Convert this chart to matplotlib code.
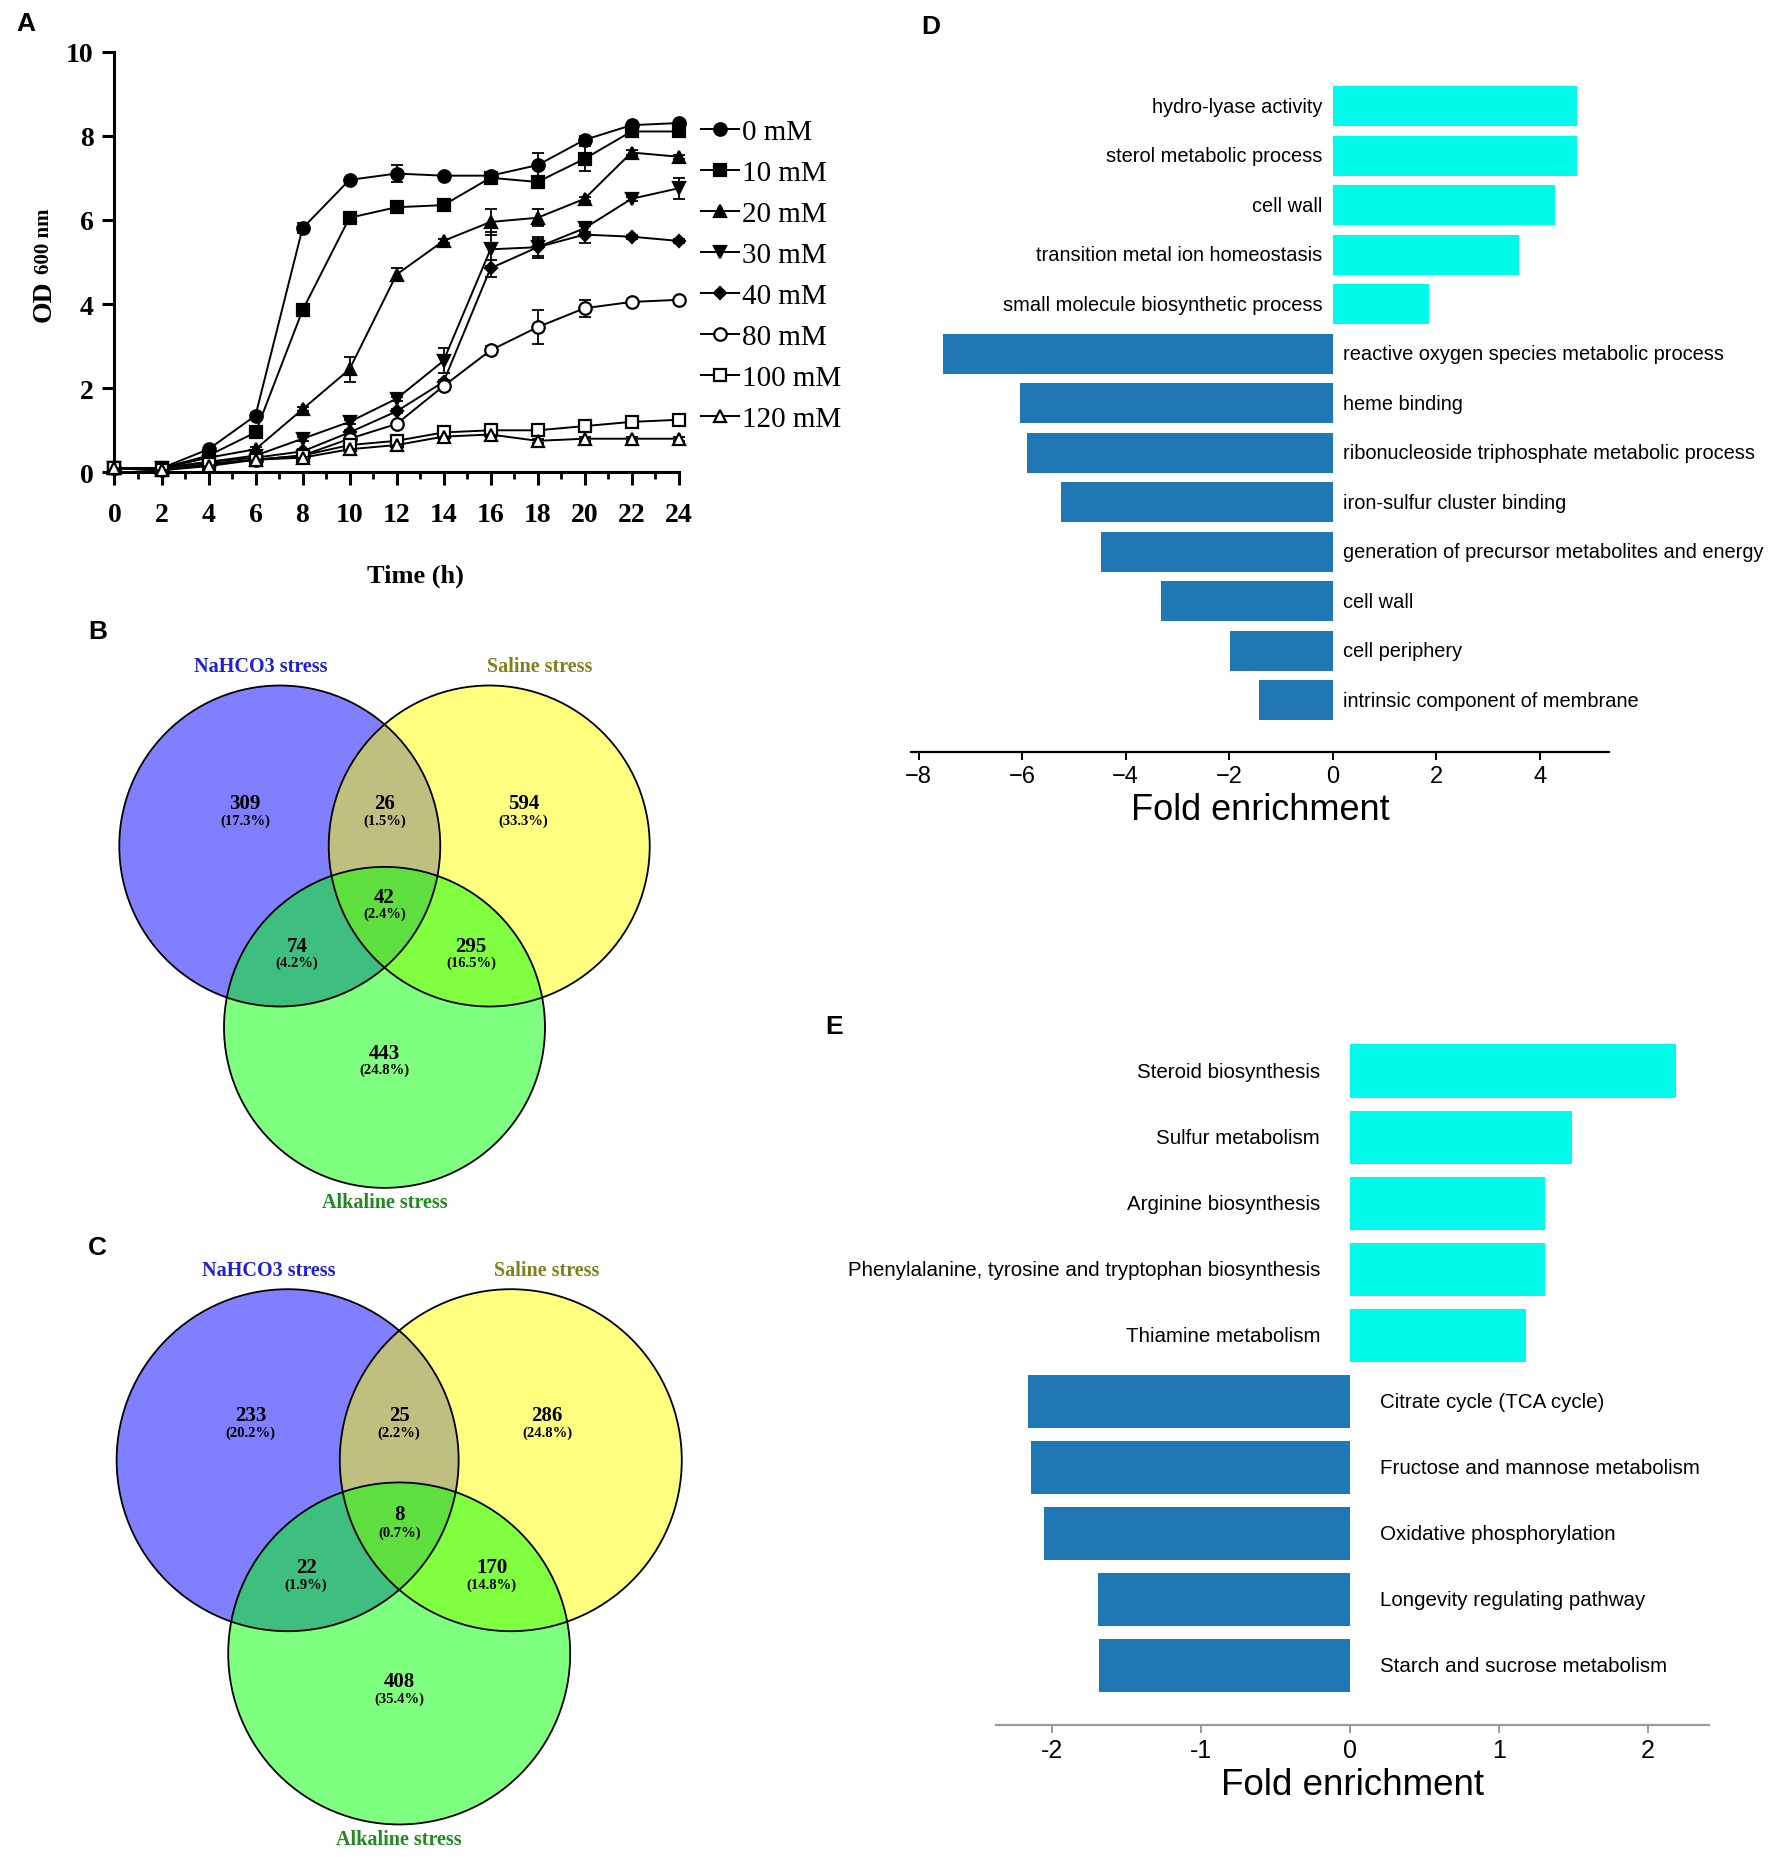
import matplotlib
matplotlib.use('Agg')
import matplotlib.pyplot as plt
from matplotlib.patches import Circle
import numpy as np

# ---------------- data ----------------
time_h = [0, 2, 4, 6, 8, 10, 12, 14, 16, 18, 20, 22, 24]
conc_labels = ['0 mM', '10 mM', '20 mM', '30 mM', '40 mM', '80 mM', '100 mM', '120 mM']
od_0 = [0.10, 0.10, 0.55, 1.35, 5.80, 6.95, 7.10, 7.05, 7.05, 7.30, 7.90, 8.25, 8.30]
od_10 = [0.10, 0.10, 0.40, 0.95, 3.85, 6.05, 6.30, 6.35, 7.00, 6.90, 7.45, 8.10, 8.10]
od_20 = [0.10, 0.10, 0.35, 0.55, 1.50, 2.45, 4.70, 5.50, 5.95, 6.05, 6.50, 7.60, 7.50]
od_30 = [0.10, 0.10, 0.25, 0.40, 0.80, 1.20, 1.75, 2.65, 5.30, 5.35, 5.80, 6.50, 6.75]
od_40 = [0.10, 0.10, 0.25, 0.35, 0.50, 0.95, 1.45, 2.15, 4.85, 5.35, 5.65, 5.60, 5.50]
od_80 = [0.10, 0.05, 0.20, 0.30, 0.40, 0.80, 1.15, 2.05, 2.90, 3.45, 3.90, 4.05, 4.10]
od_100 = [0.10, 0.05, 0.20, 0.30, 0.40, 0.65, 0.75, 0.95, 1.00, 1.00, 1.10, 1.20, 1.25]
od_120 = [0.10, 0.05, 0.15, 0.30, 0.35, 0.55, 0.65, 0.85, 0.90, 0.75, 0.80, 0.80, 0.80]
err_0 = [0, 0, 0.05, 0.05, 0.12, 0.05, 0.20, 0.05, 0.05, 0.30, 0.10, 0.05, 0.05]
err_10 = [0, 0, 0.05, 0.05, 0.05, 0.05, 0.05, 0.05, 0.10, 0.15, 0.30, 0.05, 0.05]
err_20 = [0, 0, 0.05, 0.05, 0.05, 0.30, 0.15, 0.05, 0.30, 0.20, 0.05, 0.05, 0.05]
err_30 = [0, 0, 0.05, 0.05, 0.05, 0.05, 0.05, 0.30, 0.40, 0.25, 0.10, 0.05, 0.25]
err_40 = [0, 0, 0.05, 0.05, 0.05, 0.05, 0.05, 0.05, 0.20, 0.20, 0.20, 0.05, 0.05]
err_80 = [0, 0, 0.05, 0.05, 0.05, 0.05, 0.05, 0.10, 0.10, 0.40, 0.20, 0.05, 0.05]
err_100 = [0, 0, 0.03, 0.03, 0.03, 0.05, 0.05, 0.05, 0.05, 0.05, 0.05, 0.05, 0.05]
err_120 = [0, 0, 0.03, 0.03, 0.03, 0.05, 0.05, 0.05, 0.05, 0.05, 0.05, 0.05, 0.05]

venn_sets = ['NaHCO3 stress', 'Saline stress', 'Alkaline stress']
# region order: NaHCO3 only, NaHCO3&Saline, Saline only, NaHCO3&Alkaline, all, Saline&Alkaline, Alkaline only
venn_B_counts = [309, 26, 594, 74, 42, 295, 443]
venn_C_counts = [233, 25, 286, 22, 8, 170, 408]

go_terms = ['hydro-lyase activity', 'sterol metabolic process', 'cell wall',
            'transition metal ion homeostasis', 'small molecule biosynthetic process',
            'reactive oxygen species metabolic process', 'heme binding',
            'ribonucleoside triphosphate metabolic process', 'iron-sulfur cluster binding',
            'generation of precursor metabolites and energy', 'cell wall',
            'cell periphery', 'intrinsic component of membrane']
go_fold = [4.72, 4.72, 4.30, 3.61, 1.87, -7.52, -6.05, -5.90, -5.24, -4.47, -3.32, -1.98, -1.43]

kegg_terms = ['Steroid biosynthesis', 'Sulfur metabolism', 'Arginine biosynthesis',
              'Phenylalanine, tyrosine and tryptophan biosynthesis', 'Thiamine metabolism',
              'Citrate cycle (TCA cycle)', 'Fructose and mannose metabolism',
              'Oxidative phosphorylation', 'Longevity regulating pathway',
              'Starch and sucrose metabolism']
kegg_fold = [2.19, 1.49, 1.31, 1.31, 1.18, -2.16, -2.14, -2.05, -1.69, -1.68]

# ---------------- figure ----------------
W, H = 1775, 1858
fig = plt.figure(figsize=(W / 100, H / 100), dpi=100)
SERIF = 'Liberation Serif'
SANS = 'Liberation Sans'


def px_axes(x0, y0, x1, y1):
    return fig.add_axes([x0 / W, 1 - y1 / H, (x1 - x0) / W, (y1 - y0) / H])


def panel_label(x, y, s):
    fig.text(x / W, 1 - y / H, s, fontsize=19, fontweight='bold', family=SANS,
             ha='center', va='center')

# ---------------- Panel A ----------------
axA = px_axes(114.5, 52.5, 678.5, 473.4)
series = [od_0, od_10, od_20, od_30, od_40, od_80, od_100, od_120]
errs = [err_0, err_10, err_20, err_30, err_40, err_80, err_100, err_120]
markers = ['o', 's', '^', 'v', 'D', 'o', 's', '^']
msizes = [9, 8, 9, 9, 6.5, 9, 8, 9]
filled = [True, True, True, True, True, False, False, False]
handles = []
for vals, er, m, ms, f, lab in zip(series, errs, markers, msizes, filled, conc_labels):
    eb = axA.errorbar(time_h, vals, yerr=er, fmt='none', ecolor='black',
                      elinewidth=1.3, capsize=4, capthick=1.3)
    for a in list(eb.lines[1]) + list(eb.lines[2]):
        a.set_clip_on(False)
    ln, = axA.plot(time_h, vals, color='black', lw=1.4, marker=m, ms=ms,
                   mfc='black' if f else 'white', mec='black', mew=1.6,
                   clip_on=False, label=lab, zorder=3)
    handles.append(ln)

axA.set_xlim(0, 24)
axA.set_ylim(0, 10)
axA.set_xticks(range(0, 25, 2))
axA.set_xticks(range(1, 24, 2), minor=True)
axA.set_yticks(range(0, 11, 2))
for s in ['top', 'right']:
    axA.spines[s].set_visible(False)
for s in ['left', 'bottom']:
    axA.spines[s].set_linewidth(2.2)
axA.tick_params(axis='both', which='major', direction='out', length=9, width=2.2)
axA.tick_params(axis='x', which='minor', direction='out', length=5, width=2.0)
axA.tick_params(axis='x', which='major', pad=12)
axA.tick_params(axis='y', which='major', pad=6)
for lbl in axA.get_xticklabels() + axA.get_yticklabels():
    lbl.set_fontfamily(SERIF)
    lbl.set_fontweight('bold')
    lbl.set_fontsize(20)
fig.text(415 / W, 1 - 576 / H, 'Time (h)', family=SERIF, fontweight='bold', fontsize=19,
         ha='center', va='center')
fig.text(44 / W, 1 - 322 / H, 'OD', family=SERIF, fontweight='bold', fontsize=20,
         rotation=90, ha='center', va='bottom')
fig.text(44 / W, 1 - 274 / H, '600 nm', family=SERIF, fontweight='bold', fontsize=15,
         rotation=90, ha='center', va='bottom')
axA.legend(handles=handles, loc='upper left', bbox_to_anchor=(701 / W, 1 - 120 / H),
           bbox_transform=fig.transFigure, frameon=False, borderpad=0, borderaxespad=0,
           handlelength=1.3, handletextpad=0.1, labelspacing=0.5,
           prop={'family': SERIF, 'size': 21})
panel_label(26, 24, 'A')

# ---------------- Venn panels ----------------
D_SEP = 1.305
centers = [(-D_SEP / 2, 0.0), (D_SEP / 2, 0.0), (0.0, -D_SEP * 0.866)]
fills = [(0, 0, 1, 0.5), (1, 1, 0, 0.5), (0, 1, 0, 0.5)]
region_pos = [(-0.868, 0.266), (0.0, 0.266), (0.866, 0.266), (-0.545, -0.622),
              (0.0, -0.317), (0.54, -0.622), (0.0, -1.29)]
title_colors = ['#1e1ee0', '#80801e', '#208a20']


def venn(box, mid, r, counts, title_pos):
    x0, y0, x1, y1 = box
    ax = px_axes(x0, y0, x1, y1)
    ax.set_xlim((x0 - mid[0]) / r, (x1 - mid[0]) / r)
    ax.set_ylim((mid[1] - y1) / r, (mid[1] - y0) / r)
    ax.axis('off')
    for c, fc in zip(centers, fills):
        ax.add_patch(Circle(c, 1.0, facecolor=fc, edgecolor='none'))
    for c in centers:
        ax.add_patch(Circle(c, 1.0, facecolor='none', edgecolor='black', lw=1.3))
    total = sum(counts)
    for (px, py), n in zip(region_pos, counts):
        ax.text(px, py, str(n), family=SERIF, fontweight='bold', fontsize=15,
                ha='center', va='center')
        ax.text(px, py - 0.103, '(%.1f%%)' % (100.0 * n / total), family=SERIF,
                fontweight='bold', fontsize=10.5, ha='center', va='center')
    for (tx, ty), name, col in zip(title_pos, venn_sets, title_colors):
        ax.text(tx, ty, name, family=SERIF, fontweight='bold', fontsize=14.5,
                color=col, ha='center', va='center')
    return ax


venn((60, 600, 720, 1230), (384.5, 847.0), 160.5, venn_B_counts,
     [(-0.768, 1.123), (0.970, 1.123), (0.0, -2.22)])
panel_label(97.5, 632, 'B')
venn((60, 1215, 740, 1858), (399.2, 1461.2), 171.0, venn_C_counts,
     [(-0.765, 1.111), (0.861, 1.111), (0.0, -2.216)])
panel_label(97.5, 1248, 'C')

# ---------------- Panels D and E ----------------
CYAN = '#00fbea'
BLUE = '#1f77b4'


def enrich_bar(box, terms, vals, xlim, ylim, ticks, ticklabels, label_size, gap_pt,
               tick_size, axis_color, label_y_pad, xlabel_pad, xlabel_size):
    ax = px_axes(*box)
    y = np.arange(len(terms))
    cols = [CYAN if v > 0 else BLUE for v in vals]
    ax.barh(y, vals, height=0.81, color=cols, edgecolor='none')
    ax.set_xlim(*xlim)
    ax.set_ylim(*ylim)
    ax.set_yticks([])
    for s in ['top', 'right', 'left']:
        ax.spines[s].set_visible(False)
    ax.spines['bottom'].set_color(axis_color)
    ax.spines['bottom'].set_linewidth(1.6)
    ax.set_xticks(ticks)
    if ticklabels is not None:
        ax.set_xticklabels(ticklabels)
    ax.tick_params(axis='x', direction='out', length=6, width=1.4, color=axis_color,
                   labelsize=tick_size, pad=label_y_pad)
    for lbl in ax.get_xticklabels():
        lbl.set_fontfamily(SANS)
    for yi, (t, v) in enumerate(zip(terms, vals)):
        if v > 0:
            ax.annotate(t, (0, yi), xytext=(-gap_pt, 0), textcoords='offset points',
                        ha='right', va='center', fontsize=label_size, family=SANS)
        else:
            ax.annotate(t, (0, yi), xytext=(gap_pt, 0), textcoords='offset points',
                        ha='left', va='center', fontsize=label_size, family=SANS)
    ax.set_xlabel('Fold enrichment', family=SANS, fontsize=xlabel_size, labelpad=xlabel_pad)
    return ax


enrich_bar((911.4, 77.6, 1608.9, 753.4), go_terms, go_fold, (-8.14, 5.34), (13.05, -0.6),
           [-8, -6, -4, -2, 0, 2, 4], None, 14.4, 7.5, 17, 'black', 3, 4, 26)
panel_label(931, 27, 'D')

enrich_bar((995.9, 1035.9, 1709.2, 1726.1), kegg_terms, kegg_fold, (-2.374, 2.41), (9.90, -0.55),
           [-2, -1, 0, 1, 2], ['-2', '-1', '0', '1', '2'], 14.8, 21.5, 18, '#9a9a9a', 3, 4, 26.5)
panel_label(834, 1027, 'E')

fig.savefig('out.png', dpi=100)
